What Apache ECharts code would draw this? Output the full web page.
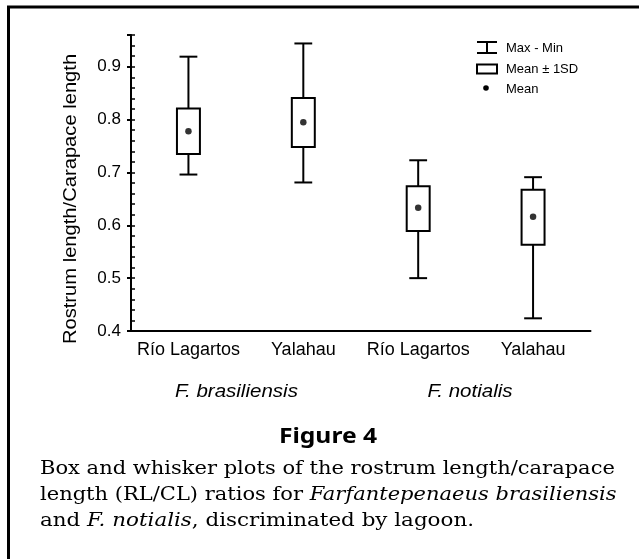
<!DOCTYPE html>
<html>
<head>
<meta charset="utf-8">
<script src="https://cdn.jsdelivr.net/npm/echarts@6/dist/echarts.min.js"></script>
<style>
  html, body { margin: 0; padding: 0; background: #fff; }
  #chart { width: 639px; height: 559px; }
</style>
</head>
<body>
<div id="chart"></div>
<script>
const categories = ['Río Lagartos', 'Yalahau', 'Río Lagartos', 'Yalahau'];
const groupLabels = ['F. brasiliensis', 'F. notialis'];
const maxValues = [0.919, 0.944, 0.723, 0.691];
const minValues = [0.696, 0.681, 0.500, 0.424];
const sdHigh = [0.821, 0.841, 0.674, 0.667];
const sdLow = [0.735, 0.748, 0.589, 0.563];
const means = [0.778, 0.795, 0.633, 0.616];
const yTicks = [0.4, 0.5, 0.6, 0.7, 0.8, 0.9];
const legendLabels = ['Max - Min', 'Mean \u00b1 1SD', 'Mean'];

const chart = echarts.init(document.getElementById('chart'), null, { renderer: 'canvas' });

const boxData = categories.map((c, i) => [i, maxValues[i], minValues[i], sdHigh[i], sdLow[i]]);
const meanData = categories.map((c, i) => [i, means[i]]);

const sans = 'Liberation Sans, Arial, sans-serif';
const serif = 'DejaVu Serif, serif';
const richI = { i: { fontStyle: 'italic', fontFamily: 'DejaVu Serif', fontSize: 18 } };

const option = {
  animation: false,
  grid: { left: 131, right: 48.5, top: 35, bottom: 228, containLabel: false },
  xAxis: {
    type: 'category',
    data: categories,
    boundaryGap: true,
    axisLine: { lineStyle: { color: '#000', width: 2 } },
    axisTick: { alignWithLabel: true, length: 4, lineStyle: { color: '#000', width: 2 } },
    axisLabel: { color: '#000', fontFamily: sans, fontSize: 18, margin: 10, interval: 0 },
    splitLine: { show: false }
  },
  yAxis: [
    {
      type: 'value', min: 0.4, max: 0.96, interval: 0.1,
      axisLine: { show: true, lineStyle: { color: '#000', width: 2 } },
      axisTick: { show: true, length: 4, lineStyle: { color: '#000', width: 2 } },
      axisLabel: {
        color: '#000', fontFamily: sans, fontSize: 17, margin: 10,
        formatter: v => yTicks.some(t => Math.abs(t - v) < 1e-6) ? v.toFixed(1) : ''
      },
      splitLine: { show: false }
    },
    {
      type: 'value', min: 0.4, max: 0.96, interval: 0.02, position: 'left',
      axisLine: { show: false },
      axisTick: { show: true, inside: true, length: 4, lineStyle: { color: '#000', width: 1.5 } },
      axisLabel: { show: false },
      splitLine: { show: false }
    }
  ],
  series: [
    {
      type: 'custom',
      data: boxData,
      renderItem: function (params, api) {
        const x = api.value(0);
        const pMax = api.coord([x, api.value(1)]);
        const pMin = api.coord([x, api.value(2)]);
        const pHi = api.coord([x, api.value(3)]);
        const pLo = api.coord([x, api.value(4)]);
        const band = api.size([1, 0])[0];
        const bw = band * 0.2;
        const cw = band * 0.155;
        const cx = pMax[0];
        const st = { stroke: '#000', lineWidth: 2, fill: null };
        return {
          type: 'group',
          children: [
            { type: 'line', shape: { x1: cx, y1: pMax[1], x2: cx, y2: pHi[1] }, style: st },
            { type: 'line', shape: { x1: cx, y1: pLo[1], x2: cx, y2: pMin[1] }, style: st },
            { type: 'line', shape: { x1: cx - cw / 2, y1: pMax[1], x2: cx + cw / 2, y2: pMax[1] }, style: st },
            { type: 'line', shape: { x1: cx - cw / 2, y1: pMin[1], x2: cx + cw / 2, y2: pMin[1] }, style: st },
            { type: 'rect', shape: { x: cx - bw / 2, y: pHi[1], width: bw, height: pLo[1] - pHi[1] }, style: { stroke: '#000', lineWidth: 2, fill: '#fff' } }
          ]
        };
      }
    },
    {
      type: 'scatter',
      data: meanData,
      symbol: 'circle',
      symbolSize: 6.5,
      itemStyle: { color: '#000' },
      z: 5
    }
  ],
  graphic: [
    { type: 'polyline', shape: { points: [[8.5, 570], [8.5, 7], [650, 7]] }, style: { stroke: '#000', lineWidth: 3, fill: null } },
    // y axis name
    { type: 'text', x: 71, y: 199, rotation: Math.PI / 2, scaleX: 1.12,
      style: { text: 'Rostrum length/Carapace length', font: '18px ' + sans, fill: '#000', textAlign: 'center', textVerticalAlign: 'middle' } },
    // legend
    { type: 'line', shape: { x1: 487, y1: 42, x2: 487, y2: 53 }, style: { stroke: '#000', lineWidth: 2 } },
    { type: 'line', shape: { x1: 477, y1: 42, x2: 497, y2: 42 }, style: { stroke: '#000', lineWidth: 2 } },
    { type: 'line', shape: { x1: 477, y1: 53, x2: 497, y2: 53 }, style: { stroke: '#000', lineWidth: 2 } },
    { type: 'rect', shape: { x: 477, y: 64.5, width: 20, height: 9 }, style: { stroke: '#000', lineWidth: 2, fill: '#fff' } },
    { type: 'circle', shape: { cx: 486, cy: 88, r: 2.8 }, style: { fill: '#000' } },
    { type: 'text', x: 506, y: 48, style: { text: legendLabels[0], font: '13px ' + sans, fill: '#000', textVerticalAlign: 'middle' } },
    { type: 'text', x: 506, y: 69, style: { text: legendLabels[1], font: '13px ' + sans, fill: '#000', textVerticalAlign: 'middle' } },
    { type: 'text', x: 506, y: 89, style: { text: legendLabels[2], font: '13px ' + sans, fill: '#000', textVerticalAlign: 'middle' } },
    // group labels
    { type: 'text', x: 236.5, y: 392, scaleX: 1.08, style: { text: groupLabels[0], font: 'italic 19px ' + sans, fill: '#000', textAlign: 'center', textVerticalAlign: 'middle' } },
    { type: 'text', x: 470, y: 392, scaleX: 1.08, style: { text: groupLabels[1], font: 'italic 19px ' + sans, fill: '#000', textAlign: 'center', textVerticalAlign: 'middle' } },
    // figure title
    { type: 'text', x: 328, y: 437, scaleX: 1.12, style: { text: 'Figure 4', font: 'bold 22px Noto Sans, sans-serif', fill: '#000', textAlign: 'center', textVerticalAlign: 'middle' } },
    // caption
    { type: 'text', x: 40, y: 469, scaleX: 1.167, style: { text: 'Box and whisker plots of the rostrum length/carapace', font: '18px ' + serif, fill: '#000', textVerticalAlign: 'middle' } },
    { type: 'text', x: 40, y: 495, scaleX: 1.167, style: {
        text: 'length (RL/CL) ratios for {i|Farfantepenaeus brasiliensis}',
        font: '18px ' + serif, fill: '#000', textVerticalAlign: 'middle', rich: richI } },
    { type: 'text', x: 40, y: 521.5, scaleX: 1.19, style: {
        text: 'and {i|F. notialis}, discriminated by lagoon.',
        font: '18px ' + serif, fill: '#000', textVerticalAlign: 'middle', rich: richI } }
  ]
};

chart.setOption(option);
</script>
</body>
</html>
